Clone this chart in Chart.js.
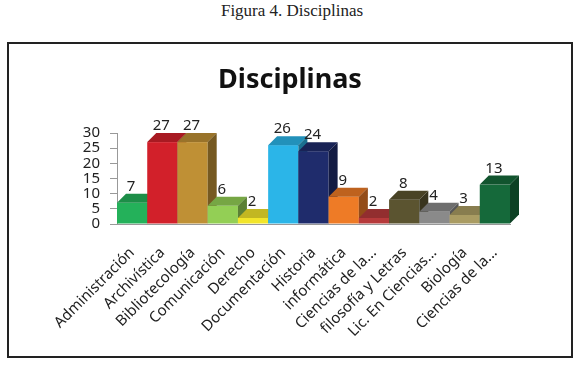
<!DOCTYPE html>
<html>
<head>
<meta charset="utf-8">
<script src="https://cdn.jsdelivr.net/npm/chart.js@4"></script>
<style>
  body { margin: 0; background: #fff; width: 580px; height: 366px; position: relative; overflow: hidden; }
  #caption { position: absolute; top: 1px; left: 0; width: 584px; text-align: center;
             font: 17px "Liberation Serif", "DejaVu Serif", serif; color: #222; }
  #frame { position: absolute; left: 7px; top: 42px; width: 562px; height: 312px; border: 2px solid #222; }
  #wrap { position: absolute; left: 9px; top: 44px; width: 562px; height: 312px; }
</style>
</head>
<body>
<div id="caption">Figura 4. Disciplinas</div>
<div id="frame"></div>
<div id="wrap"><canvas id="chart" width="562" height="312"></canvas></div>
<script>
// categories and values
const disciplinas = [
  'Administración', 'Archivística', 'Bibliotecología', 'Comunicación', 'Derecho',
  'Documentación', 'Historia', 'informática', 'Ciencias de la...', 'filosofía y Letras',
  'Lic. En Ciencias...', 'Biología', 'Ciencias de la...'
];
const cantidades = [7, 27, 27, 6, 2, 26, 24, 9, 2, 8, 4, 3, 13];
const yTicks = [0, 5, 10, 15, 20, 25, 30];

const colores = [
  '#24b15a', '#d2202a', '#bf9035', '#93cf55', '#f2e52a', '#2bb5e8', '#1f2c6c',
  '#ee7b26', '#b63a3b', '#5b5430', '#8a8a8a', '#aa9c63', '#15693a'
];

const FONT = "'Noto Sans', sans-serif";
const DEPTH_X = 9, DEPTH_Y = 9;

// darken a hex colour
function shade(hex, f) {
  const n = parseInt(hex.slice(1), 16);
  const r = Math.round(((n >> 16) & 255) * f);
  const g = Math.round(((n >> 8) & 255) * f);
  const b = Math.round((n & 255) * f);
  return `rgb(${r},${g},${b})`;
}

// draws the bars as boxes (front, top, right side), left to right
const bar3d = {
  id: 'bar3d',
  beforeDatasetDraw(chart, args) {
    const ctx = chart.ctx;
    const ds = chart.data.datasets[args.index];
    ctx.save();
    args.meta.data.forEach((bar, i) => {
      const { x, y, base, width } = bar.getProps(['x', 'y', 'base', 'width'], true);
      const l = x - width / 2, r = x + width / 2;
      const c = ds.backgroundColor[i];
      ctx.fillStyle = c;
      ctx.fillRect(l, y, width, base - y);
      ctx.fillStyle = shade(c, 0.8);
      ctx.beginPath();
      ctx.moveTo(l, y);
      ctx.lineTo(l + DEPTH_X, y - DEPTH_Y);
      ctx.lineTo(r + DEPTH_X, y - DEPTH_Y);
      ctx.lineTo(r, y);
      ctx.closePath();
      ctx.fill();
      ctx.fillStyle = shade(c, 0.62);
      ctx.beginPath();
      ctx.moveTo(r, y);
      ctx.lineTo(r + DEPTH_X, y - DEPTH_Y);
      ctx.lineTo(r + DEPTH_X, base - DEPTH_Y);
      ctx.lineTo(r, base);
      ctx.closePath();
      ctx.fill();
    });
    ctx.restore();
    return false;
  },
  afterDatasetsDraw(chart) {
    const ctx = chart.ctx;
    const meta = chart.getDatasetMeta(0);
    ctx.save();
    ctx.font = `15px ${FONT}`;
    ctx.fillStyle = '#222';
    ctx.textAlign = 'center';
    ctx.textBaseline = 'alphabetic';
    meta.data.forEach((bar, i) => {
      const { x, y } = bar.getProps(['x', 'y'], true);
      ctx.fillText(String(cantidades[i]), x - 1, y - DEPTH_Y - 3);
    });
    ctx.restore();
  }
};

new Chart(document.getElementById('chart'), {
  type: 'bar',
  data: {
    labels: disciplinas,
    datasets: [{
      label: 'Disciplinas',
      data: cantidades,
      backgroundColor: colores,
      categoryPercentage: 1,
      barPercentage: 1
    }]
  },
  plugins: [bar3d],
  options: {
    responsive: false,
    animation: false,
    layout: { padding: 0 },
    plugins: {
      legend: { display: false },
      tooltip: { enabled: false },
      title: {
        display: true,
        text: 'Disciplinas',
        color: '#111',
        font: { family: FONT, size: 27, weight: 'bold' },
        padding: { top: 20, bottom: 36.6 }
      }
    },
    scales: {
      x: {
        grid: { display: false },
        border: { display: true, color: '#999' },
        ticks: {
          autoSkip: false,
          minRotation: 45,
          maxRotation: 45,
          color: '#222',
          padding: 12,
          font: { family: FONT, size: 15 }
        },
        afterFit: s => { s.height = 132; }
      },
      y: {
        min: 0,
        max: 30,
        grid: { drawOnChartArea: false, drawTicks: true, tickLength: 7, color: '#999' },
        border: { display: true, color: '#999' },
        afterBuildTicks: s => { s.ticks = yTicks.map(v => ({ value: v })); },
        ticks: {
          autoSkip: false,
          color: '#222',
          padding: 10,
          font: { family: FONT, size: 15 }
        },
        afterFit: s => { s.width = 108; }
      },
      // empty right-hand axis that only reserves room for the 3D depth
      yRight: {
        position: 'right',
        min: 0,
        max: 30,
        grid: { display: false },
        border: { display: false },
        ticks: { display: false },
        afterFit: s => { s.width = 61; }
      }
    }
  }
});
</script>
</body>
</html>
